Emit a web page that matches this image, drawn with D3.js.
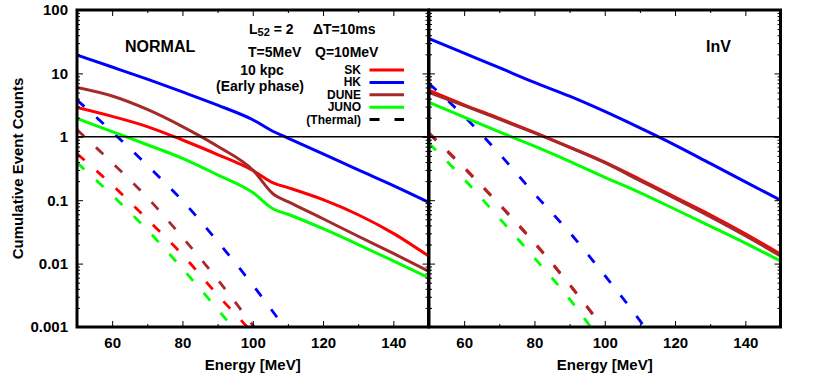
<!DOCTYPE html>
<html>
<head>
<meta charset="UTF-8">
<script src="https://d3js.org/d3.v7.min.js"></script>
<style>
  body { margin: 0; background: #fff; font-family: "Liberation Sans", Arial, sans-serif; }
  text { font-weight: bold; fill: #000; }
  .tick text { font-size: 15px; font-family: "Liberation Sans", Arial, sans-serif; font-weight: bold; }
  .tick line { stroke: #000; stroke-width: 1; }
</style>
</head>
<body>
<svg id="chart" width="830" height="383"></svg>
<script>
// ---- data (cumulative event counts vs energy threshold, MeV) ----
const eKinkN = [50, 60, 70, 80, 90, 100, 106, 110, 120, 130, 140, 150];
const eGrid = [50, 60, 70, 80, 90, 100, 110, 120, 130, 140, 150];

// NORMAL ordering, solid
const skNormal   = [2.9, 2.1, 1.45, 0.89, 0.525, 0.295, 0.186, 0.158, 0.102, 0.059, 0.030, 0.0132];
const hkNormal   = [19.5, 12.6, 8.1, 5.1, 3.16, 1.86, 1.2, 0.955, 0.537, 0.30, 0.17, 0.093];
const duneNormal = [6.0, 4.4, 2.7, 1.45, 0.71, 0.30, 0.123, 0.095, 0.051, 0.027, 0.0145, 0.0076];
const junoNormal = [1.95, 1.21, 0.75, 0.457, 0.251, 0.132, 0.072, 0.060, 0.0355, 0.020, 0.011, 0.006];

// NORMAL ordering, thermal (dashed)
const eThN = [50, 60, 70, 80, 90, 100, 110];
const skThN   = [0.54, 0.174, 0.050, 0.0138, 0.0032, 0.00079, 0.00015];
const hkThN   = [3.8, 1.2, 0.355, 0.098, 0.0224, 0.0046, 0.00083];
const duneThN = [1.29, 0.39, 0.11, 0.026, 0.0056, 0.00107, 0.0002];
const junoThN = [0.39, 0.12, 0.034, 0.0083, 0.0019, 0.0004, 0.00008];

// InV ordering, solid
const skInv   = [5.4, 3.2, 1.95, 1.17, 0.69, 0.40, 0.214, 0.112, 0.059, 0.0295, 0.0141];
const hkInv   = [35.5, 20.9, 12.3, 7.2, 4.37, 2.51, 1.38, 0.74, 0.38, 0.195, 0.10];
const duneInv = [5.0, 3.1, 1.9, 1.15, 0.68, 0.39, 0.204, 0.107, 0.055, 0.0275, 0.0132];
const junoInv = [3.5, 2.04, 1.2, 0.71, 0.41, 0.23, 0.132, 0.072, 0.039, 0.021, 0.011];

// InV ordering, thermal (dashed)
const eThI = [50, 60, 70, 80, 90, 100, 110, 120];
const skThI   = [1.15, 0.33, 0.087, 0.0215, 0.0047, 0.00092, 0.00018, 0.00003];
const hkThI   = [6.9, 2.1, 0.54, 0.126, 0.031, 0.0065, 0.00126, 0.0002];
const duneThI = [1.12, 0.32, 0.085, 0.021, 0.0046, 0.0009, 0.00017, 0.00003];
const junoThI = [0.79, 0.214, 0.052, 0.0123, 0.00275, 0.0005, 0.00009, 0.00002];

const detectors = ["SK", "HK", "DUNE", "JUNO"];
const colors = { SK: "#ff0000", HK: "#0000ff", DUNE: "#a52a2a", JUNO: "#00ff00" };
const yMajor = [100, 10, 1, 0.1, 0.01, 0.001];
const xMajor = [60, 80, 100, 120, 140];
const xMinor = [50, 70, 90, 110, 130, 150];

const panels = [
  { name: "NORMAL", x0: 77, labelX: 125, labelAnchor: "start", showY: true,
    solid: { SK: [eKinkN, skNormal], HK: [eKinkN, hkNormal], DUNE: [eKinkN, duneNormal], JUNO: [eKinkN, junoNormal] },
    thermal: { SK: [eThN, skThN], HK: [eThN, hkThN], DUNE: [eThN, duneThN], JUNO: [eThN, junoThN] } },
  { name: "InV", x0: 429, labelX: 731, labelAnchor: "end", showY: false,
    solid: { SK: [eGrid, skInv], HK: [eGrid, hkInv], DUNE: [eGrid, duneInv], JUNO: [eGrid, junoInv] },
    thermal: { SK: [eThI, skThI], HK: [eThI, hkThI], DUNE: [eThI, duneThI], JUNO: [eThI, junoThI] } }
];

const W = 351.5, yTop = 10, yBot = 327;
const svg = d3.select("#chart");

const y = d3.scaleLog().domain([0.001, 100]).range([yBot, yTop]);
const yMinor = [];
[0.001, 0.01, 0.1, 1, 10].forEach(b => { for (let k = 2; k <= 9; k++) yMinor.push(b * k); });

panels.forEach((p, i) => {
  const x = d3.scaleLinear().domain([50, 150]).range([0, W]);
  const g = svg.append("g").attr("transform", `translate(${p.x0},0)`);

  g.append("clipPath").attr("id", "clip" + i)
    .append("rect").attr("x", 0).attr("y", yTop).attr("width", W).attr("height", yBot - yTop);

  const plot = g.append("g").attr("clip-path", `url(#clip${i})`);
  const line = d3.line().x(d => x(d[0])).y(d => y(d[1])).curve(d3.curveMonotoneX);

  // thermal (dashed) first, then solid
  detectors.forEach(k => {
    const [es, vs] = p.thermal[k];
    plot.append("path")
      .datum(es.map((e, j) => [e, vs[j]]))
      .attr("d", line)
      .attr("fill", "none")
      .attr("stroke", colors[k])
      .attr("stroke-width", 2.8)
      .attr("stroke-dasharray", "10,16");
  });
  detectors.forEach(k => {
    const [es, vs] = p.solid[k];
    plot.append("path")
      .datum(es.map((e, j) => [e, vs[j]]))
      .attr("d", line)
      .attr("fill", "none")
      .attr("stroke", colors[k])
      .attr("stroke-width", 3);
  });

  // line at 1 event
  g.append("line")
    .attr("x1", 0).attr("x2", W)
    .attr("y1", y(1)).attr("y2", y(1))
    .attr("stroke", "#000").attr("stroke-width", 1.5);

  // ticks
  const ax = (axis, tx, ty) => {
    const a = g.append("g").attr("transform", `translate(${tx},${ty})`).call(axis);
    a.select(".domain").remove();
    return a;
  };
  ax(d3.axisBottom(x).tickValues(xMajor).tickSize(-6).tickPadding(10).tickFormat(d3.format("d")), 0, yBot);
  ax(d3.axisBottom(x).tickValues(xMinor).tickSize(-3).tickFormat(""), 0, yBot);
  ax(d3.axisTop(x).tickValues(xMajor).tickSize(-6).tickFormat(""), 0, yTop);
  ax(d3.axisTop(x).tickValues(xMinor).tickSize(-3).tickFormat(""), 0, yTop);

  ax(d3.axisLeft(y).tickValues(yMajor).tickSize(-6).tickPadding(9)
    .tickFormat(d => p.showY ? String(d) : ""), 0, 0);
  ax(d3.axisLeft(y).tickValues(yMinor).tickSize(-3).tickFormat(""), 0, 0);
  ax(d3.axisRight(y).tickValues(yMajor).tickSize(-6).tickFormat(""), W, 0);
  ax(d3.axisRight(y).tickValues(yMinor).tickSize(-3).tickFormat(""), W, 0);

  // frame
  g.append("rect")
    .attr("x", 0).attr("y", yTop).attr("width", W).attr("height", yBot - yTop)
    .attr("fill", "none").attr("stroke", "#000").attr("stroke-width", 3);

  g.append("text")
    .attr("x", W / 2).attr("y", 370)
    .attr("text-anchor", "middle")
    .style("font-size", "15px")
    .text("Energy [MeV]");

  svg.append("text")
    .attr("x", p.labelX).attr("y", 52)
    .attr("text-anchor", p.labelAnchor)
    .style("font-size", "16px")
    .text(p.name);
});

// y label
svg.append("text")
  .attr("transform", "translate(23,168.5) rotate(-90)")
  .attr("text-anchor", "middle")
  .style("font-size", "15px")
  .text("Cumulative Event Counts");

// annotations
const l52 = svg.append("text").attr("x", 249).attr("y", 34.3).style("font-size", "14px");
l52.append("tspan").text("L");
l52.append("tspan").attr("dy", 2).style("font-size", "11px").text("52");
l52.append("tspan").attr("dy", -2).text(" = 2");
svg.append("text").attr("x", 313).attr("y", 34.3).style("font-size", "14px").text("ΔT=10ms");
svg.append("text").attr("x", 248).attr("y", 56.7).style("font-size", "14px").text("T=5MeV");
svg.append("text").attr("x", 315).attr("y", 56.7).style("font-size", "14px").text("Q=10MeV");
svg.append("text").attr("x", 262).attr("y", 75).attr("text-anchor", "middle").style("font-size", "14px").text("10 kpc");
svg.append("text").attr("x", 260).attr("y", 91).attr("text-anchor", "middle").style("font-size", "14px").text("(Early phase)");

// legend
const legendLabels = ["SK", "HK", "DUNE", "JUNO", "(Thermal)"];
const legendColors = [colors.SK, colors.HK, colors.DUNE, colors.JUNO, "#000"];
legendLabels.forEach((lab, i) => {
  const by = 74 + i * 12.4;
  svg.append("text")
    .attr("x", 361).attr("y", by)
    .attr("text-anchor", "end")
    .style("font-size", "12px")
    .text(lab);
  svg.append("line")
    .attr("x1", 369.5).attr("x2", 404)
    .attr("y1", by - 4).attr("y2", by - 4)
    .attr("stroke", legendColors[i])
    .attr("stroke-width", 3)
    .attr("stroke-dasharray", i === 4 ? "10,15" : null);
});
</script>
</body>
</html>
